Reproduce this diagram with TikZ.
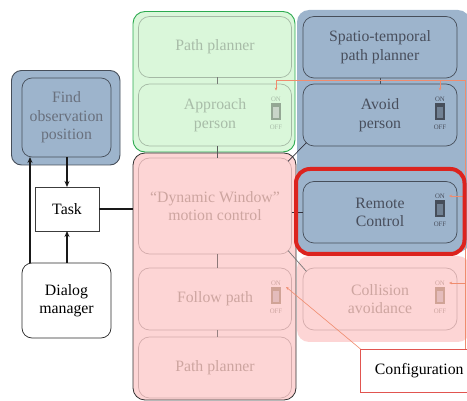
\documentclass[tikz,border=0pt]{standalone}
\usepackage{fontspec}
\setmainfont{Liberation Serif}
\usetikzlibrary{arrows.meta}
\definecolor{blueg}{RGB}{157,180,204}
\definecolor{bdark}{RGB}{70,78,90}
\definecolor{btext}{RGB}{72,78,92}
\definecolor{fdtext}{RGB}{105,112,125}
\definecolor{gfill}{RGB}{218,247,218}
\definecolor{gedge}{RGB}{45,170,80}
\definecolor{ggray}{RGB}{165,185,165}
\definecolor{gtext}{RGB}{168,188,168}
\definecolor{pfill}{RGB}{253,213,213}
\definecolor{pgray}{RGB}{212,172,172}
\definecolor{ptext}{RGB}{205,165,160}
\definecolor{hred}{RGB}{220,35,30}
\definecolor{cfgred}{RGB}{225,85,80}
\definecolor{salm}{RGB}{240,140,110}
\newcommand\mybx[7]{\node[#6, inner sep=0pt, outer sep=0pt, minimum width={#4-#2}, minimum height={#5-#3}, align=center] (#1) at ({(#2+#4)/2},{(#3+#5)/2}) {#7};}
\tikzset{
  grp/.style={rounded corners=12pt},
  inbox/.style={rounded corners=11pt, draw, line width=0.7pt},
  gbox/.style={inbox, draw=ggray, text=gtext},
  pbox/.style={inbox, draw=pgray, text=ptext},
  bbox/.style={inbox, draw=bdark, text=btext},
  blk/.style={line width=1.3pt, draw={rgb,255:red,25;green,25;blue,25}},
  blkarrow/.style={blk, -{Stealth[length=6pt,width=5pt]}},
  thinc/.style={line width=0.7pt},
  sal/.style={draw=salm, line width=0.6pt},
  salarrow/.style={sal, -{Stealth[length=3pt,width=2.6pt]}},
  swfont/.style={font=\fontsize{6.8}{7}\selectfont, inner sep=0pt},
  pics/toggle/.style n args={3}{code={
    \node[swfont, text=#3] (-on) at (0,-16) {ON};
    \fill[#1] (-5,-11.5) rectangle (5,5.5);
    \fill[#2] (-3.2,-7.5) rectangle (3.2,3.5);
    \node[swfont, text=#3] (-off) at (0,11.8) {OFF};
  }}
}
\begin{document}
\begin{tikzpicture}[x=1pt,y=-1pt, font=\fontsize{15.8}{18.5}\selectfont]
\useasboundingbox (0,0) rectangle (467,401);
% group backgrounds
\mybx{blueout}{297}{10}{470}{252}{grp, fill=blueg}{}
\mybx{pinkright}{297}{256}{470}{342}{grp, fill=pfill}{}
\mybx{greenout}{133}{11.5}{295}{152}{grp, fill=gfill, draw=gedge, line width=0.9pt}{}
\mybx{pinkout}{133}{153}{296}{400}{grp, fill=pfill, draw={rgb,255:red,50;green,50;blue,50}, line width=0.8pt}{}
\mybx{findout}{11.5}{70.5}{120}{165}{rounded corners=10pt, fill=blueg, draw=bdark, line width=0.9pt}{}
% inner boxes
\mybx{findin}{22}{78}{111}{157}{inbox, rounded corners=10pt, draw=bdark, text=fdtext}{Find\\observation\\position}
\mybx{task}{35}{187}{99}{231}{draw={rgb,255:red,60;green,60;blue,60}, line width=0.7pt, fill=white}{Task}
\mybx{dialog}{22}{263}{111}{338}{rounded corners=10pt, draw={rgb,255:red,40;green,40;blue,40}, line width=0.7pt, fill=white}{Dialog\\manager}
\mybx{pp1}{138.5}{16.5}{291.5}{77.5}{gbox}{Path planner}
\mybx{approach}{138.5}{84}{291.5}{146}{gbox}{Approach\\person}
\mybx{dwa}{138.5}{158}{291.5}{254}{pbox}{``Dynamic Window''\\motion control}
\mybx{follow}{138.5}{268}{291.5}{330}{pbox}{Follow path}
\mybx{pp2}{138.5}{337}{291.5}{398}{pbox}{Path planner}
\mybx{spatio}{303}{16.5}{457}{78}{bbox}{Spatio-temporal\\path planner}
\mybx{avoid}{303}{84}{457}{146}{bbox}{Avoid\\person}
\mybx{remote}{303}{181.5}{457}{243}{bbox}{Remote\\Control}
\mybx{collision}{303}{268}{457}{330}{pbox}{Collision\\avoidance}
% connectors
\draw[blkarrow] (task.north |- findin.south) -- (task.north);
\draw[blkarrow] (task.south |- dialog.north) -- (task.south);
\draw[blkarrow] ([xshift=8pt]dialog.north west) -- ([xshift=8pt]dialog.north west |- findin.south);
\draw[blk] (task.east) -- (task.east -| pinkout.west);
\draw[thinc, draw={rgb,255:red,120;green,125;blue,120}] ([xshift=2.5pt]pp1.south) -- ([xshift=2.5pt]approach.north);
\draw[thinc, draw={rgb,255:red,90;green,90;blue,90}] ([xshift=2.5pt]approach.south) -- ([xshift=2.5pt]dwa.north);
\draw[thinc, draw={rgb,255:red,140;green,120;blue,120}] ([xshift=2.5pt]dwa.south) -- ([xshift=2.5pt]follow.north);
\draw[thinc, draw={rgb,255:red,150;green,130;blue,130}] ([xshift=2.5pt]follow.south) -- ([xshift=2.5pt]pp2.north);
\draw[thinc, draw=bdark] (spatio.south) -- (avoid.north);
\draw[thinc, draw={rgb,255:red,50;green,50;blue,60}] ([xshift=3.5pt,yshift=3.5pt]avoid.south west) -- ([xshift=-3.5pt,yshift=-3.5pt]dwa.north east);
\draw[thinc, draw={rgb,255:red,50;green,50;blue,60}] (remote.west -| dwa.east) -- (remote.west);
\draw[thinc, draw={rgb,255:red,120;green,120;blue,120}] ([xshift=-3.5pt,yshift=3.5pt]dwa.south east) -- ([xshift=3.5pt,yshift=-3.5pt]collision.north west);
% switches
\pic (swA) at (276,115) {toggle={ggray!90!black}{ggray!60}{gtext}};
\pic (swB) at (440,115) {toggle={bdark}{bdark!50!blueg}{btext}};
\pic (swC) at (440,212) {toggle={bdark}{bdark!50!blueg}{btext}};
\pic (swD) at (440,299) {toggle={pgray!80!brown}{pgray!60!pfill}{ptext}};
\pic (swE) at (276,299) {toggle={pgray!80!brown}{pgray!60!pfill}{ptext}};
% configuration box
\mybx{config}{360.5}{349}{478}{392.5}{draw=cfgred, line width=0.9pt, fill=white}{Configuration}
% configuration lines
\coordinate (busbot) at (465.5,349);
\coordinate (bustop) at (465.5,80);
\coordinate (busleft) at (276,80);
\coordinate (busB) at (440,80);
\draw[sal] (busbot) -- (bustop) -- (busleft);
\draw[salarrow] (busleft) -- ([yshift=6pt]swA-on.north);
\draw[salarrow] (busB) -- ([yshift=6pt]swB-on.north);
\draw[salarrow] (swC-on -| bustop) -- ([xshift=4pt]swC-on.east);
\draw[salarrow] (swD-on -| bustop) -- ([xshift=4pt]swD-on.east);
\draw[salarrow] (config.north west) -- ([xshift=5pt,yshift=-4pt]swE-on.east);
% highlight
\mybx{redbox}{296}{169}{464.5}{254}{rounded corners=14pt, draw=hred, line width=4pt}{}
\end{tikzpicture}
\end{document}
